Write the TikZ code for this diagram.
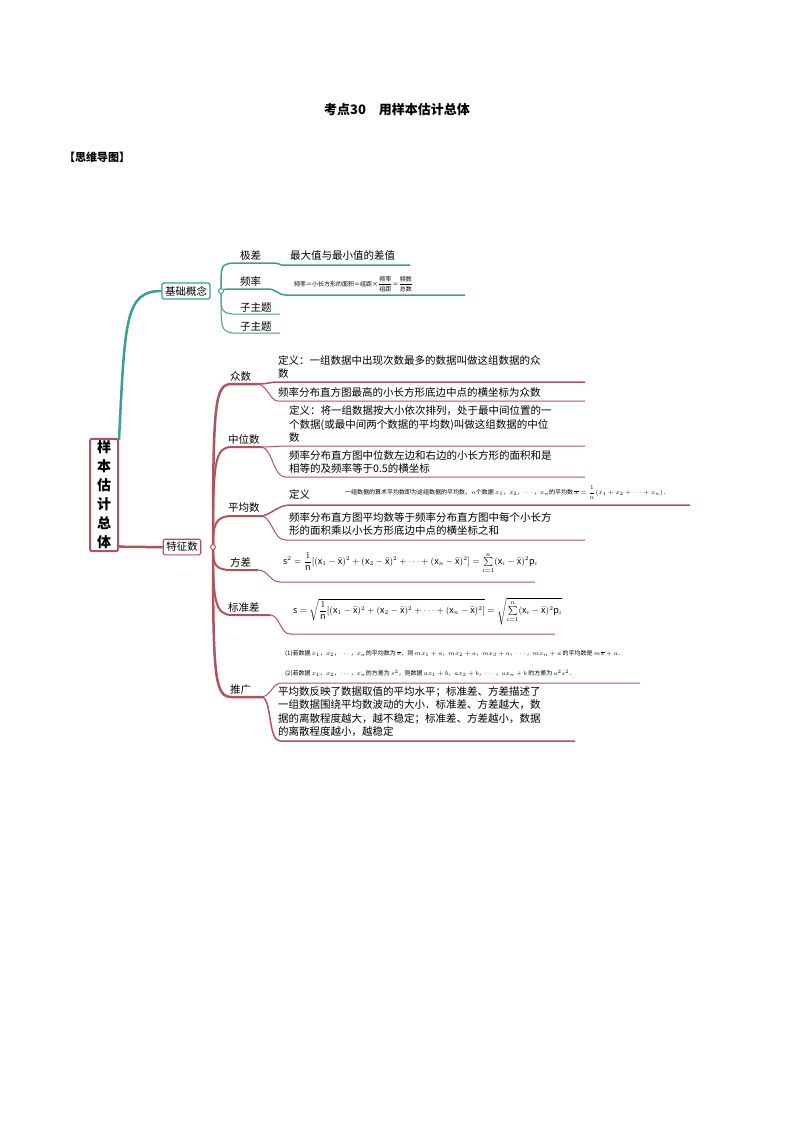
\documentclass[tikz,border=0pt]{standalone}
\usepackage{amsmath}
\usepackage{fontspec}
\setmainfont{Noto Sans CJK SC}
\begin{document}
\begin{tikzpicture}[x=1pt,y=-1pt,
  txt/.style={font=\fontsize{10.5}{13.5}\selectfont,inner sep=0pt,anchor=south west,align=left},
  sm/.style={font=\fontsize{6}{8}\selectfont,inner sep=0pt,anchor=south west},
  tl/.style={draw=tealc,line width=1pt},
  rl/.style={draw=redc,line width=1pt},
  box/.style={draw,line width=1.2pt,rounded corners=1.5pt,inner sep=3pt,font=\fontsize{10.5}{13}\selectfont}]
\definecolor{tealc}{HTML}{3A9E94}
\definecolor{redc}{HTML}{B0535C}
\useasboundingbox (0,0) rectangle (794,1123);
\node[font=\bfseries\fontsize{13}{15}\selectfont] (title) at (397,110) {考点30\quad 用样本估计总体};
\node[font=\bfseries\fontsize{11}{13}\selectfont,anchor=west,inner sep=0pt] (mm) at (64,157) {【思维导图】};
% root
\node[draw=redc,line width=2pt,rounded corners=2pt,minimum width=28pt,minimum height=100pt,inner sep=2pt,align=center,font=\bfseries\fontsize{14}{19}\selectfont] (root) at (104,495) {样\\本\\估\\计\\总\\体};
\node[box,draw=tealc] (jc) at (186,291) {基础概念};
\node[box,draw=redc] (tz) at (182,547) {特征数};
\draw[tealc,line width=2.5pt] (root.north east) ++(0,2) .. controls (125,320) and (125,291) .. (jc.west);
\draw[redc,line width=2.5pt] (root.south east) ++(-2,-6) .. controls (125,547) .. (tz.west);
% basic concepts
\coordinate (bp) at (221,291);
\node[txt] (jicha) at (240,261) {极差};
\node[txt] (jicha2) at (290,261) {最大值与最小值的差值};
\draw[tl,line width=1.5pt] (bp) .. controls (221,265) .. (232,263) -- (270,263) .. controls (276,263) .. (282,265) -- (410,265);
\node[txt] (pl) at (240,287) {频率};
\draw[tl,line width=1.5pt] (bp) .. controls (225,289) .. (232,289) -- (268,289) .. controls (276,289) and (278,295) .. (286,295) -- (465,295);
\node[sm,anchor=west] (plf) at (294,284) {频率＝小长方形的面积＝组距×$\dfrac{\text{频率}}{\text{组距}}$＝$\dfrac{\text{频数}}{\text{总数}}$};
\node[txt] (z1) at (240,313) {子主题};
\draw[tl] (bp) .. controls (221,312) .. (232,314) -- (280,314);
\node[txt] (z2) at (240,332) {子主题};
\draw[tl] (bp) .. controls (221,330) .. (232,333) -- (280,333);
\fill[white,draw=tealc,line width=1pt] (bp) circle (2.5);
% feature numbers trunk
\coordinate (tp) at (213,547);
\draw[redc,line width=2.5pt] (tp) .. controls (213,400) and (215,384) .. (232,384) -- (258,384);
\draw[redc,line width=2pt] (tp) .. controls (213,460) and (215,447) .. (232,447) -- (262,447);
\draw[redc,line width=2pt] (tp) .. controls (213,525) and (215,516) .. (232,516) -- (262,516);
\draw[redc,line width=2pt] (tp) .. controls (213,565) and (215,570) .. (232,570) -- (258,570);
\draw[redc,line width=2pt] (tp) .. controls (213,600) and (215,615) .. (232,615) -- (270,615);
\draw[redc,line width=2.5pt] (tp) .. controls (213,680) and (215,697) .. (232,697) -- (262,697);
\fill[white,draw=redc,line width=1pt] (tp) circle (2.5);
% 众数
\node[txt] (zs) at (230,382) {众数};
\draw[rl,line width=1.5pt] (258,384) .. controls (268,384) and (270,382) .. (278,382) -- (585,382);
\draw[rl] (258,384) .. controls (268,386) and (270,401) .. (278,401) -- (585,401);
\node[txt] (zs1) at (278,379) {定义：一组数据中出现次数最多的数据叫做这组数据的众\\数};
\node[txt] (zs2) at (278,398) {频率分布直方图最高的小长方形底边中点的横坐标为众数};
% 中位数
\node[txt] (zw) at (228,445) {中位数};
\draw[rl] (262,447) .. controls (272,447) and (278,446) .. (285,446) -- (585,446);
\draw[rl] (262,447) .. controls (272,449) and (274,477) .. (285,477) -- (585,477);
\node[txt] (zw1) at (289,443) {定义：将一组数据按大小依次排列，处于最中间位置的一\\个数据(或最中间两个数据的平均数)叫做这组数据的中位\\数};
\node[txt] (zw2) at (289,474) {频率分布直方图中位数左边和右边的小长方形的面积和是\\相等的及频率等于0.5的横坐标};
% 平均数
\node[txt] (pj) at (228,513) {平均数};
\draw[rl,line width=1.5pt] (262,516) .. controls (272,514) and (278,505) .. (290,505) -- (690,505);
\draw[rl] (262,516) .. controls (272,518) and (274,540) .. (285,540) -- (585,540);
\node[txt] (pj1) at (289,500) {定义};
\node[sm] (pj1f) at (345,500) {一组数据的算术平均数即为这组数据的平均数，$n$个数据 $x_1$，$x_2$，$\cdots$，$x_n$的平均数 $\overline{x}=\dfrac{1}{n}(x_1+x_2+\cdots+x_n)$．};
\node[txt] (pj2) at (289,536) {频率分布直方图平均数等于频率分布直方图中每个小长方\\形的面积乘以小长方形底边中点的横坐标之和};
% 方差
\node[txt] (fc) at (230,568) {方差};
\draw[rl] (258,570) .. controls (268,570) and (270,582) .. (280,582) -- (535,582);
\node[inner sep=0pt,anchor=west,font=\small] (fcf) at (283,563) {$\mathrm{s}^2=\dfrac{1}{\mathrm n}[(\mathrm x_1-\bar{\mathrm x})^2+(\mathrm x_2-\bar{\mathrm x})^2+\dots+(\mathrm x_n-\bar{\mathrm x})^2]=\sum\limits_{i=1}^{n}(\mathrm x_i-\bar{\mathrm x})^2\mathrm p_i$};
% 标准差
\node[txt] (bz) at (228,613) {标准差};
\draw[rl] (270,615) .. controls (280,615) and (280,634) .. (290,634) -- (555,634);
\node[inner sep=0pt,anchor=west,font=\small] (bzf) at (293,611) {$\mathrm{s}=\sqrt{\dfrac{1}{\mathrm n}[(\mathrm x_1-\bar{\mathrm x})^2+(\mathrm x_2-\bar{\mathrm x})^2+\dots+(\mathrm x_n-\bar{\mathrm x})^2]}=\sqrt{\sum\limits_{i=1}^{n}(\mathrm x_i-\bar{\mathrm x})^2\mathrm p_i}$};
% 推广
\node[txt] (tg) at (230,695) {推广};
\draw[rl] (262,697) .. controls (272,695) and (272,683) .. (282,683) -- (640,683);
\draw[rl,line width=1.5pt] (262,697) .. controls (272,699) and (268,741) .. (280,741) -- (575,741);
\node[sm] (tg1) at (285,657) {(1)若数据 $x_1$，$x_2$，$\cdots$，$x_n$的平均数为 $\overline{x}$，则 $mx_1+a$，$mx_2+a$，$mx_3+a$，$\cdots$，$mx_n+a$ 的平均数是 $m\overline{x}+a$．};
\node[sm] (tg2) at (285,677) {(2)若数据 $x_1$，$x_2$，$\cdots$，$x_n$的方差为 $s^2$，则数据 $ax_1+b$，$ax_2+b$，$\cdots$，$ax_n+b$ 的方差为 $a^2s^2$．};
\node[txt] (tg3) at (278,737) {平均数反映了数据取值的平均水平；标准差、方差描述了\\一组数据围绕平均数波动的大小．标准差、方差越大，数\\据的离散程度越大，越不稳定；标准差、方差越小，数据\\的离散程度越小，越稳定};
\end{tikzpicture}
\end{document}
